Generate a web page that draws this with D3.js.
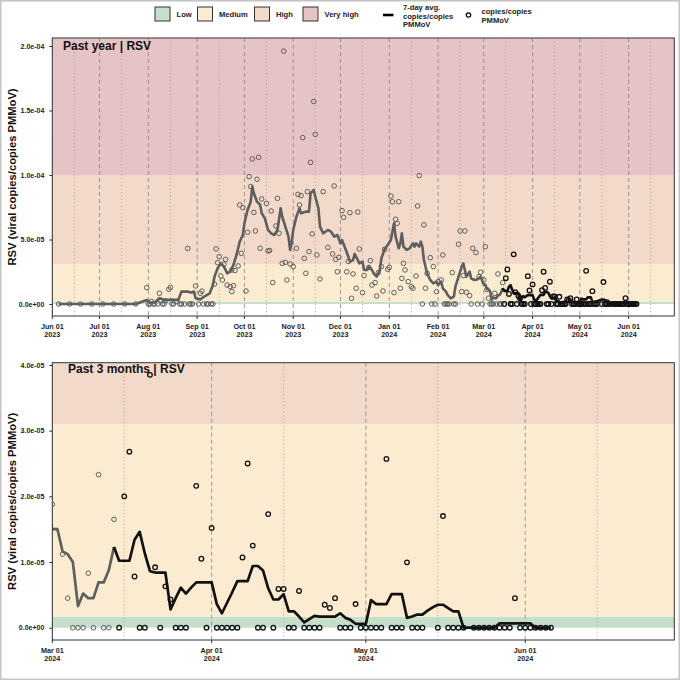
<!DOCTYPE html>
<meta charset="utf-8">
<script src="https://cdn.jsdelivr.net/npm/d3@7"></script>
<style>
  body { margin: 0; background: #fff; }
  svg { display: block; font-family: "Liberation Sans", Arial, sans-serif; font-weight: bold; }
</style>
<div id="chart"></div>
<script>

// values are in units of 1e-5 copies/copies PMMoV
var UNIT = 1e-5;

// sample points, summer-fall 2023
var samples2023 = [
  ["2023-06-05",0],["2023-06-12",0],["2023-06-19",0],["2023-06-26",0],["2023-07-03",0],["2023-07-10",0],
  ["2023-07-17",0],["2023-07-24",0],["2023-07-31",1.27],["2023-08-01",0],["2023-08-02",0],["2023-08-03",0.2],
  ["2023-08-04",0],["2023-08-05",0],["2023-08-07",0],["2023-08-08",0.83],["2023-08-09",0.3],["2023-08-10",0],
  ["2023-08-11",0],["2023-08-12",0.25],["2023-08-14",1.14],["2023-08-15",1.29],["2023-08-16",0],["2023-08-17",0],
  ["2023-08-19",0.2],["2023-08-21",0],["2023-08-22",0],["2023-08-24",0],["2023-08-26",4.31],["2023-08-27",0],
  ["2023-08-28",0],["2023-08-29",0],["2023-08-31",1.4],["2023-09-02",0],["2023-09-03",0.83],["2023-09-04",1.0],
  ["2023-09-05",0],["2023-09-07",0],["2023-09-08",0],["2023-09-10",0],["2023-09-11",0],["2023-09-12",1.55],
  ["2023-09-13",4.27],["2023-09-14",3.2],["2023-09-15",3.67],["2023-09-16",2.17],["2023-09-17",1.86],
  ["2023-09-18",3.08],["2023-09-19",3.46],["2023-09-20",1.47],["2023-09-22",1.35],["2023-09-23",2.64],
  ["2023-09-23",0.96],["2023-09-24",1.42],["2023-09-25",2.6],["2023-09-27",2.95],["2023-09-28",7.68],
  ["2023-09-29",3.93],["2023-09-30",7.47],["2023-10-02",1.01],["2023-10-03",5.56],["2023-10-04",9.87],
  ["2023-10-05",9.1],["2023-10-06",11.24],["2023-10-07",7.1],["2023-10-08",5.66],["2023-10-09",9.67],
  ["2023-10-10",11.37],["2023-10-11",4.32],["2023-10-12",8.14],["2023-10-15",7.8],["2023-10-16",4.11],
  ["2023-10-17",4.15],["2023-10-18",7.21],["2023-10-19",1.66],["2023-10-21",6.05],["2023-10-22",8.19],
  ["2023-10-23",5.48],["2023-10-25",3.15],["2023-10-26",19.6],["2023-10-27",3.23],["2023-10-28",1.86],
  ["2023-10-30",3.1],["2023-11-01",2.9],["2023-11-03",4.32],["2023-11-04",8.5],["2023-11-05",7.68],
  ["2023-11-06",8.4],["2023-11-07",12.9],["2023-11-08",3.54],["2023-11-09",2.38],["2023-11-10",8.71],
  ["2023-11-11",4.06],["2023-11-12",10.98],["2023-11-13",5.43],["2023-11-14",15.7],["2023-11-15",13.15],
  ["2023-11-16",3.8],["2023-11-18",1.94],["2023-11-20",8.71],["2023-11-23",4.39],["2023-11-26",3.88],
  ["2023-11-27",9.15],["2023-11-28",3.46],["2023-11-29",2.5],["2023-11-30",3.62],["2023-12-02",7.24],
  ["2023-12-03",6.72],["2023-12-05",2.5],["2023-12-06",3.3],["2023-12-07",7.08],["2023-12-08",0.44],
  ["2023-12-09",2.33],["2023-12-11",1.22],["2023-12-12",7.13],["2023-12-13",4.27],["2023-12-15",0.88],
  ["2023-12-16",2.2],["2023-12-19",2.84],["2023-12-20",3.36],["2023-12-21",1.47],["2023-12-23",1.66],
  ["2023-12-24",0.62],["2023-12-25",2.43],["2023-12-27",2.9],["2023-12-28",1.01],["2023-12-29",4.24],
  ["2023-12-31",2.69]
];

// sample points, winter 2024
var samplesWinter = [
  ["2024-01-01",2.84],["2024-01-02",8.37],["2024-01-03",7.93],["2024-01-04",0.88],["2024-01-05",6.57],
  ["2024-01-06",6.26],["2024-01-07",7.93],["2024-01-08",1.22],["2024-01-09",1.99],["2024-01-10",3.15],
  ["2024-01-11",2.64],["2024-01-13",1.73],["2024-01-15",1.34],["2024-01-16",1.22],["2024-01-18",2.17],
  ["2024-01-19",7.6],["2024-01-20",9.95],["2024-01-22",0],["2024-01-23",6.13],["2024-01-24",1.22],
  ["2024-01-25",2.38],["2024-01-27",3.59],["2024-01-28",0],["2024-01-29",2.9],["2024-01-30",0],
  ["2024-01-31",0.96],["2024-02-01",1.73],["2024-02-03",1.86],["2024-02-04",3.8],["2024-02-05",0],
  ["2024-02-06",0],["2024-02-07",0],["2024-02-08",0],["2024-02-10",2.43],["2024-02-11",0],["2024-02-12",0],
  ["2024-02-14",4.63],["2024-02-15",5.66],["2024-02-16",0.96],["2024-02-17",2.2],["2024-02-18",5.66],
  ["2024-02-19",0.91],["2024-02-21",0.65],["2024-02-22",0],["2024-02-23",4.32],["2024-02-25",3.98],
  ["2024-02-26",0],["2024-02-27",2.12],["2024-02-28",2.46],["2024-02-29",0]
];

// sample points, spring 2024 (daily)
var samplesSpring = [
  ["2024-03-01",1.88],["2024-03-02",4.44],["2024-03-03",1.12],["2024-03-04",0.45],["2024-03-05",0],
  ["2024-03-06",0],["2024-03-07",0],["2024-03-08",0.83],["2024-03-09",0],["2024-03-10",2.33],["2024-03-11",0],
  ["2024-03-12",0],["2024-03-13",1.65],["2024-03-14",0],["2024-03-15",2.0],["2024-03-16",2.68],
  ["2024-03-17",0.78],["2024-03-18",0],["2024-03-19",0],["2024-03-20",3.85],["2024-03-21",0.92],
  ["2024-03-22",0],["2024-03-23",0.63],["2024-03-24",0.43],["2024-03-25",0],["2024-03-26",0],["2024-03-27",0],
  ["2024-03-29",2.16],["2024-03-30",1.05],["2024-03-31",0],["2024-04-01",1.52],["2024-04-02",0],
  ["2024-04-03",0],["2024-04-04",0],["2024-04-05",0],["2024-04-06",0],["2024-04-07",1.07],["2024-04-08",2.5],
  ["2024-04-09",1.25],["2024-04-10",0],["2024-04-11",0],["2024-04-12",1.73],["2024-04-13",0],
  ["2024-04-14",0.59],["2024-04-15",0.59],["2024-04-16",0],["2024-04-17",0],["2024-04-18",0.56],
  ["2024-04-19",0],["2024-04-20",0],["2024-04-21",0],["2024-04-22",0],["2024-04-23",0.35],["2024-04-24",0.3],
  ["2024-04-25",0.45],["2024-04-26",0],["2024-04-27",0],["2024-04-28",0],["2024-04-29",0.36],["2024-04-30",0],
  ["2024-05-01",0],["2024-05-02",0],["2024-05-03",0],["2024-05-04",0],["2024-05-05",2.57],["2024-05-06",0],
  ["2024-05-07",0],["2024-05-08",0],["2024-05-09",0.995],["2024-05-10",0],["2024-05-11",0],["2024-05-12",0],
  ["2024-05-15",0],["2024-05-16",1.7],["2024-05-17",0],["2024-05-18",0],["2024-05-19",0],["2024-05-20",0],
  ["2024-05-22",0],["2024-05-23",0],["2024-05-24",0],["2024-05-25",0],["2024-05-26",0],["2024-05-27",0],
  ["2024-05-28",0],["2024-05-29",0],["2024-05-30",0.45],["2024-05-31",0],["2024-06-01",0],["2024-06-02",0],
  ["2024-06-03",0],["2024-06-04",0],["2024-06-05",0],["2024-06-06",0]
];

// 7-day average, 2023
var avg2023 = [
  ["2023-06-05",0],["2023-07-24",0],["2023-07-31",0.31],["2023-08-02",0.1],["2023-08-05",0.12],
  ["2023-08-08",0.44],["2023-08-12",0.3],["2023-08-16",0.35],["2023-08-20",0.3],["2023-08-22",0.96],
  ["2023-08-26",0.96],["2023-08-28",0.9],["2023-08-30",0.96],["2023-08-31",0.44],["2023-09-03",0.36],
  ["2023-09-06",0.62],["2023-09-09",0.83],["2023-09-11",1.47],["2023-09-12",2.12],["2023-09-14",2.77],
  ["2023-09-16",3.15],["2023-09-18",2.9],["2023-09-20",2.38],["2023-09-22",2.51],["2023-09-24",3.02],
  ["2023-09-26",3.8],["2023-09-28",4.83],["2023-09-30",5.35],["2023-10-01",6.26],["2023-10-03",7.29],
  ["2023-10-05",7.93],["2023-10-06",9.1],["2023-10-07",8.58],["2023-10-09",7.93],["2023-10-11",7.68],
  ["2023-10-12",7.03],["2023-10-14",6.64],["2023-10-16",5.74],["2023-10-18",5.48],["2023-10-20",5.35],
  ["2023-10-22",5.74],["2023-10-24",7.42],["2023-10-25",6.77],["2023-10-27",6.0],["2023-10-29",5.22],
  ["2023-10-30",4.19],["2023-10-31",4.7],["2023-11-01",5.74],["2023-11-03",6.77],["2023-11-05",7.42],
  ["2023-11-06",7.03],["2023-11-09",7.16],["2023-11-11",7.16],["2023-11-12",8.58],["2023-11-14",8.84],
  ["2023-11-15",8.32],["2023-11-17",7.42],["2023-11-18",6.0],["2023-11-20",5.48],["2023-11-23",5.74],
  ["2023-11-25",5.61],["2023-11-27",5.22],["2023-11-29",5.35],["2023-12-01",4.7],["2023-12-02",4.96],
  ["2023-12-04",4.32],["2023-12-06",3.67],["2023-12-07",3.28],["2023-12-09",3.41],["2023-12-10",3.88],
  ["2023-12-12",3.41],["2023-12-13",3.15],["2023-12-15",3.28],["2023-12-16",2.64],["2023-12-18",2.64],
  ["2023-12-19",2.9],["2023-12-21",2.64],["2023-12-22",2.38],["2023-12-24",2.12],["2023-12-26",2.64],
  ["2023-12-27",3.54],["2023-12-29",4.24],["2023-12-30",4.39]
];

// 7-day average, winter 2024
var avgWinter = [
  ["2024-01-02",4.96],["2024-01-03",5.61],["2024-01-04",6.26],["2024-01-05",5.22],["2024-01-07",4.32],
  ["2024-01-08",4.7],["2024-01-09",5.48],["2024-01-10",4.45],["2024-01-12",4.19],["2024-01-14",4.32],
  ["2024-01-16",4.7],["2024-01-17",4.45],["2024-01-18",4.7],["2024-01-20",4.45],["2024-01-21",4.83],
  ["2024-01-22",4.45],["2024-01-23",3.41],["2024-01-25",2.38],["2024-01-27",1.86],["2024-01-29",1.6],
  ["2024-01-31",1.73],["2024-02-01",1.47],["2024-02-03",1.73],["2024-02-04",1.22],["2024-02-06",0.96],
  ["2024-02-07",0.7],["2024-02-09",0.44],["2024-02-11",0.57],["2024-02-12",1.34],["2024-02-14",2.12],
  ["2024-02-16",2.9],["2024-02-17",3.15],["2024-02-18",2.64],["2024-02-19",2.12],["2024-02-21",2.51],
  ["2024-02-22",1.99],["2024-02-24",1.86],["2024-02-26",1.91],["2024-02-28",2.12]
];

// 7-day average, spring 2024
var avgSpring = [
  ["2024-03-01",1.5],["2024-03-02",1.5],["2024-03-03",1.16],["2024-03-04",1.12],["2024-03-05",1.0],
  ["2024-03-06",0.33],["2024-03-07",0.52],["2024-03-08",0.45],["2024-03-09",0.45],["2024-03-10",0.69],
  ["2024-03-11",0.69],["2024-03-12",0.88],["2024-03-13",1.23],["2024-03-14",1.02],["2024-03-15",1.02],
  ["2024-03-16",1.02],["2024-03-17",1.34],["2024-03-18",1.46],["2024-03-19",1.13],["2024-03-20",0.86],
  ["2024-03-21",0.84],["2024-03-22",0.84],["2024-03-23",0.84],["2024-03-24",0.28],["2024-03-25",0.45],
  ["2024-03-26",0.61],["2024-03-27",0.52],["2024-03-28",0.61],["2024-03-29",0.69],["2024-03-30",0.69],
  ["2024-03-31",0.69],["2024-04-01",0.69],["2024-04-02",0.36],["2024-04-03",0.22],["2024-04-04",0.38],
  ["2024-04-05",0.54],["2024-04-06",0.71],["2024-04-07",0.71],["2024-04-08",0.71],["2024-04-09",0.94],
  ["2024-04-10",0.94],["2024-04-11",0.87],["2024-04-12",0.6],["2024-04-13",0.43],["2024-04-14",0.43],
  ["2024-04-15",0.51],["2024-04-16",0.25],["2024-04-17",0.25],["2024-04-18",0.17],["2024-04-19",0.08],
  ["2024-04-20",0.13],["2024-04-21",0.18],["2024-04-22",0.17],["2024-04-23",0.17],["2024-04-24",0.17],
  ["2024-04-25",0.17],["2024-04-26",0.22],["2024-04-27",0.15],["2024-04-28",0.12],["2024-04-29",0.06],
  ["2024-04-30",0.06],["2024-05-01",0.06],["2024-05-02",0.42],["2024-05-03",0.36],["2024-05-04",0.36],
  ["2024-05-05",0.36],["2024-05-06",0.51],["2024-05-07",0.51],["2024-05-08",0.51],["2024-05-09",0.15],
  ["2024-05-10",0.17],["2024-05-11",0.2],["2024-05-12",0.2],["2024-05-13",0.26],["2024-05-14",0.31],
  ["2024-05-15",0.35],["2024-05-16",0.35],["2024-05-17",0.3],["2024-05-18",0.25],["2024-05-19",0.25],
  ["2024-05-20",0],["2024-05-21",0],["2024-05-22",0],["2024-05-23",0],["2024-05-24",0],["2024-05-25",0],
  ["2024-05-26",0],["2024-05-27",0.067],["2024-05-28",0.067],["2024-05-29",0.067],["2024-05-30",0.067],
  ["2024-05-31",0.067],["2024-06-01",0.067],["2024-06-02",0.067],["2024-06-03",0],["2024-06-04",0],
  ["2024-06-05",0],["2024-06-06",0]
];

// data before this date is drawn in grey
var recentFrom = "2024-03-13";

// risk levels (same 1e-5 units)
var levelNames = ["Low", "Medium", "High", "Very high"];
var levelBreaks = [0, 0.17, 3.1, 10, 1000];
var levelColors = ["#c6dfcb", "#fbebd0", "#f2d9c9", "#e5c3c7"];

var parse = d3.utcParse("%Y-%m-%d");
function rows(list) { return list.map(function(d) { return {date: parse(d[0]), value: d[1] * UNIT}; }); }
var samples = rows(samples2023.concat(samplesWinter, samplesSpring));
var avg = rows(avg2023.concat(avgWinter, avgSpring));
var cutoff = parse(recentFrom);

var panels = [
  {title: "Past year | RSV", start: "2023-06-01", end: "2024-06-30",
   yDomain: [-0.93e-5, 20.62e-5], yTicks: [0, 5e-5, 1e-4, 1.5e-4, 2e-4],
   top: 38, bottom: 316, titleX: 63, titleY: 49.5, lw: 2.6},
  {title: "Past 3 months | RSV", start: "2024-03-01", end: "2024-06-30",
   yDomain: [-0.187e-5, 4.035e-5], yTicks: [0, 1e-5, 2e-5, 3e-5, 4e-5],
   top: 362.7, bottom: 640, titleX: 68, titleY: 373, lw: 2.7}
];

var left = 52.3, right = 674.3;
var grey = "#5e5e5e", dark = "#111";

var svg = d3.select("#chart").append("svg")
  .attr("width", 680).attr("height", 680);

svg.append("rect").attr("x", 0.75).attr("y", 0.75).attr("width", 678.5).attr("height", 678.5)
  .attr("fill", "#fff").attr("stroke", "#c4c4c4").attr("stroke-width", 1.5);

function sci(v) {
  return v.toExponential(1).replace(/e([+-])(\d)$/, "e$10$2");
}

panels.forEach(function(p, i) {
  var x = d3.scaleUtc().domain([parse(p.start), parse(p.end)]).range([left, right]);
  var y = d3.scaleLinear().domain(p.yDomain).range([p.bottom, p.top]);

  var clipId = "clip" + i;
  svg.append("clipPath").attr("id", clipId).append("rect")
    .attr("x", left).attr("y", p.top).attr("width", right - left).attr("height", p.bottom - p.top);

  var g = svg.append("g").attr("clip-path", "url(#" + clipId + ")");

  // level bands
  function bandTop(k) { return Math.max(p.top, y(levelBreaks[k + 1] * UNIT)); }
  g.selectAll(".band").data(levelNames).enter().append("rect")
    .attr("class", "band")
    .attr("x", left).attr("width", right - left)
    .attr("y", function(d, k) { return bandTop(k); })
    .attr("height", function(d, k) { return y(levelBreaks[k] * UNIT) - bandTop(k); })
    .attr("fill", function(d, k) { return levelColors[k]; });

  // month and mid-month guides
  var months = d3.utcMonth.range(d3.utcMonth.floor(x.domain()[0]), x.domain()[1]);
  g.selectAll(".mline").data(months).enter().append("line")
    .attr("class", "mline")
    .attr("x1", function(d) { return x(d); }).attr("x2", function(d) { return x(d); })
    .attr("y1", p.top).attr("y2", p.bottom)
    .attr("stroke", "#858585").attr("stroke-width", 0.8).attr("stroke-dasharray", "4,3");
  var mids = months.map(function(d) { return new Date(Date.UTC(d.getUTCFullYear(), d.getUTCMonth(), 15)); });
  g.selectAll(".hline").data(mids).enter().append("line")
    .attr("class", "hline")
    .attr("x1", function(d) { return x(d); }).attr("x2", function(d) { return x(d); })
    .attr("y1", p.top).attr("y2", p.bottom)
    .attr("stroke", "#999").attr("stroke-width", 0.8).attr("stroke-dasharray", "1,2.5");

  // 7-day average line, older part grey
  var line = d3.line().x(function(d) { return x(d.date); }).y(function(d) { return y(d.value); });
  g.append("path").datum(avg.filter(function(d) { return d.date <= cutoff; }))
    .attr("d", line).attr("fill", "none").attr("stroke", grey).attr("stroke-width", p.lw)
    .attr("stroke-linejoin", "round");
  g.append("path").datum(avg.filter(function(d) { return d.date >= cutoff; }))
    .attr("d", line).attr("fill", "none").attr("stroke", dark).attr("stroke-width", p.lw)
    .attr("stroke-linejoin", "round");

  // sample points
  g.selectAll(".pt").data(samples).enter().append("circle")
    .attr("class", "pt")
    .attr("cx", function(d) { return x(d.date); })
    .attr("cy", function(d) { return y(d.value); })
    .attr("r", 2.3).attr("fill", "none")
    .attr("stroke", function(d) { return d.date > cutoff ? dark : grey; })
    .attr("stroke-width", function(d) { return d.date > cutoff ? 1.3 : 1; });

  // frame
  svg.append("rect").attr("x", left).attr("y", p.top).attr("width", right - left).attr("height", p.bottom - p.top)
    .attr("fill", "none").attr("stroke", "#333").attr("stroke-width", 1);

  // panel title
  svg.append("text").attr("x", p.titleX).attr("y", p.titleY)
    .attr("font-size", 12).attr("fill", "#111").text(p.title);

  // y axis
  var yAxis = svg.append("g").attr("transform", "translate(" + left + ",0)")
    .call(d3.axisLeft(y).tickValues(p.yTicks).tickFormat(sci).tickSize(3).tickPadding(5));
  yAxis.select(".domain").remove();
  yAxis.selectAll("line").attr("stroke", "#333");
  yAxis.selectAll("text").attr("font-size", 7).attr("font-family", null).attr("fill", "#222");

  svg.append("text")
    .attr("transform", "translate(16," + (p.top + p.bottom) / 2 + ") rotate(-90)")
    .attr("text-anchor", "middle").attr("font-size", 11.2).attr("fill", "#111")
    .text("RSV (viral copies/copies PMMoV)");

  // x axis
  var xTicks = months.filter(function(d) { return d >= x.domain()[0]; });
  var xl = svg.append("g").selectAll("g").data(xTicks).enter().append("g")
    .attr("transform", function(d) { return "translate(" + x(d) + "," + p.bottom + ")"; });
  xl.append("line").attr("y1", 0).attr("y2", 3).attr("stroke", "#333");
  xl.append("text").attr("y", 12.5).attr("text-anchor", "middle").attr("font-size", 7.2).attr("fill", "#222")
    .text(d3.utcFormat("%b %d"));
  xl.append("text").attr("y", 20.5).attr("text-anchor", "middle").attr("font-size", 7.2).attr("fill", "#222")
    .text(d3.utcFormat("%Y"));
});

// legend
var legend = svg.append("g").attr("font-size", 7.6).attr("fill", "#222");
var boxX = [155, 197.5, 254.5, 303];
legend.selectAll(".lb").data(levelNames).enter().append("rect")
  .attr("class", "lb")
  .attr("x", function(d, k) { return boxX[k]; }).attr("y", 7).attr("width", 15).attr("height", 14)
  .attr("fill", function(d, k) { return levelColors[k]; }).attr("stroke", "#333").attr("stroke-width", 1);
legend.selectAll(".lt").data(levelNames).enter().append("text")
  .attr("class", "lt")
  .attr("x", function(d, k) { return boxX[k] + 21.5; }).attr("y", 16.8).text(function(d) { return d; });

legend.append("line").attr("x1", 383).attr("x2", 393.5).attr("y1", 15).attr("y2", 15)
  .attr("stroke", "#000").attr("stroke-width", 2.6);
["7-day avg.", "copies/copies", "PMMoV"].forEach(function(t, k) {
  legend.append("text").attr("x", 403).attr("y", 10.3 + k * 8.2).text(t);
});
legend.append("circle").attr("cx", 468.5).attr("cy", 15).attr("r", 2.2)
  .attr("fill", "none").attr("stroke", "#000").attr("stroke-width", 1.2);
["copies/copies", "PMMoV"].forEach(function(t, k) {
  legend.append("text").attr("x", 481.5).attr("y", 14.3 + k * 8.2).text(t);
});

</script>
